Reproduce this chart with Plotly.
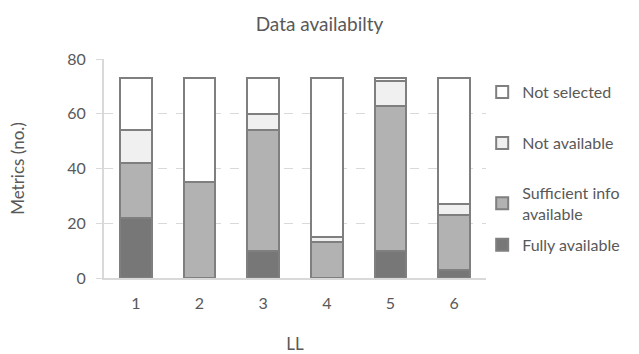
import plotly.graph_objects as go

categories = ["1", "2", "3", "4", "5", "6"]
fully_available = [22, 0, 10, 0, 10, 3]
sufficient_info = [20, 35, 44, 13, 53, 20]
not_available = [12, 0, 6, 2, 9, 4]
not_selected = [19, 38, 13, 58, 1, 46]

series = [
    ("Fully available", fully_available, "#777777", "legend2", 0.151),
    ("Sufficient info<br>available", sufficient_info, "#b2b2b2", "legend3", 0.340),
    ("Not available", not_available, "#f0f0f0", "legend4", 0.616),
    ("Not selected", not_selected, "#ffffff", "legend5", 0.849),
]

FONT = "Lato, Carlito, Calibri, sans-serif"
TXT = "#595959"

fig = go.Figure()
legends = {}
for name, vals, col, leg, ly in series:
    fig.add_trace(go.Bar(
        x=categories, y=vals, name=name,
        marker=dict(color=col, line=dict(color="#7f7f7f", width=2)),
        legend=leg, showlegend=True,
    ))
    legends[leg] = dict(x=0.99, xanchor="left", y=ly, yanchor="middle",
                        bgcolor="rgba(0,0,0,0)", visible=True,
                        font=dict(size=16, color=TXT, family=FONT),
                        itemwidth=30)

fig.update_layout(
    barmode="stack",
    bargap=0.5,
    width=639, height=354,
    margin=dict(l=104, r=153, t=59, b=76, autoexpand=False),
    paper_bgcolor="white", plot_bgcolor="white",
    font=dict(family=FONT, color=TXT, size=16),
    title=dict(text="Data availabilty", x=0.5, xanchor="center", y=0.93, yanchor="middle",
               font=dict(size=19, color=TXT, family=FONT)),
    xaxis=dict(showgrid=False, showline=True, linecolor="#d9d9d9", linewidth=2,
               ticks="", tickfont=dict(size=16), ticklabelstandoff=10, automargin=False,
               title=dict(text="LL", font=dict(size=17), standoff=28)),
    yaxis=dict(range=[0, 80], dtick=20, showgrid=True, gridcolor="#d9d9d9",
               griddash="dash", gridwidth=1, showline=True, linecolor="#d9d9d9",
               linewidth=2, ticks="outside", ticklen=6, tickcolor="#d9d9d9",
               tickfont=dict(size=16), zeroline=False, ticklabelstandoff=7, automargin=False,
               title=dict(text="Metrics (no.)", font=dict(size=17), standoff=38)),
    **legends,
)

fig.write_html("out.html")
